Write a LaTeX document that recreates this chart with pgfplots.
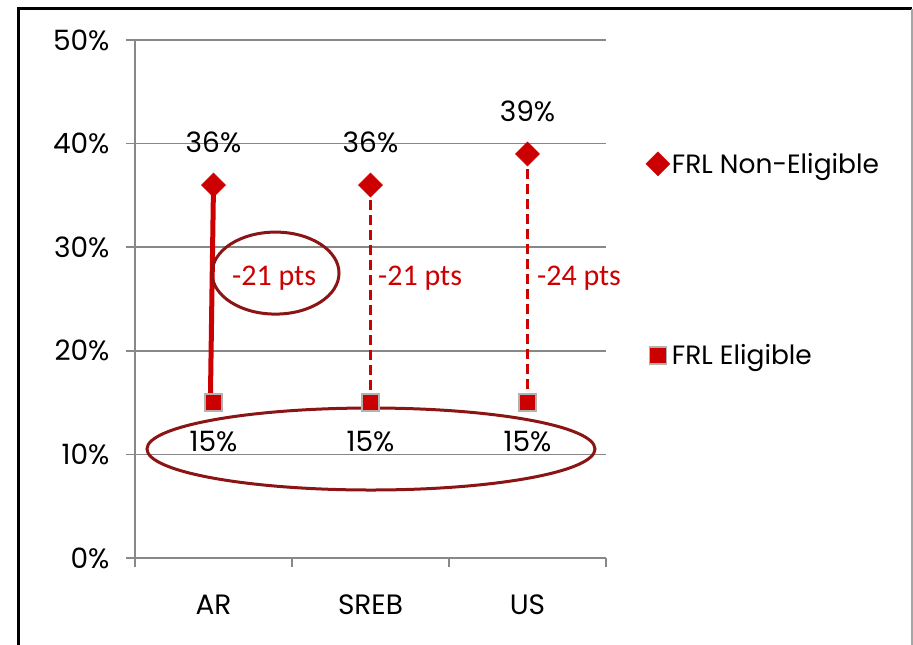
\documentclass[border=0pt]{standalone}
\usepackage{fontspec}
\setmainfont{Poppins}
\newfontfamily\lblfont{Carlito}
\usepackage{pgfplots}
\pgfplotsset{compat=1.18}
\definecolor{frlred}{HTML}{CC0000}
\definecolor{ringred}{HTML}{8B1414}
\definecolor{axgray}{HTML}{888888}

\begin{document}
\begin{tikzpicture}
% page frame (px -> pt, origin bottom left)
\path[use as bounding box] (0,0) rectangle (913pt,645pt);
\draw[line width=3pt,black] (18pt,-2pt) -- (18pt,636pt) -- (912pt,636pt);
\draw[line width=1.5pt,gray!70] (912pt,636pt) -- (912pt,-2pt);

\begin{axis}[
    at={(135pt,87pt)}, anchor=south west,
    scale only axis, width=471pt, height=518pt,
    xmin=0.5, xmax=3.5, ymin=0, ymax=50,
    xtick={0.5,1.5,2.5,3.5},
    x tick label as interval,
    xticklabels={AR,SREB,US,},
    ytick={0,10,...,50},
    yticklabel={\pgfmathprintnumber{\tick}\%},
    axis x line*=bottom, axis y line*=left,
    axis line style={axgray,line width=1.5pt},
    tick style={axgray,line width=1.5pt},
    tick align=outside, major tick length=9pt,
    ymajorgrids, grid style={axgray,line width=1.5pt},
    tick label style={font=\fontsize{28}{31}\selectfont, black},
    yticklabel style={xshift=-13pt},
    xticklabel style={yshift=-24pt},
    /pgf/number format/assume math mode=true,
    legend style={at={(1.078,0.79)}, anchor=north west, draw=none, fill=none,
        font=\fontsize{26.5}{29}\selectfont, row sep=166pt,
        /tikz/every even column/.append style={column sep=0pt}},
    legend cell align=left,
    clip=false,
]
% connecting lines
\addplot[frlred, line width=5pt, forget plot] coordinates {(1,36) (0.98,15)};
\addplot[frlred, line width=2.5pt, dash pattern=on 10pt off 5pt, forget plot] coordinates {(2,36) (2,15)};
\addplot[frlred, line width=2.5pt, dash pattern=on 10pt off 5pt, forget plot] coordinates {(3,39) (3,15)};

\addplot[only marks, mark=square*, mark size=8.5pt,
    mark options={rotate=45, fill=frlred, draw=frlred},
    nodes near coords={\pgfmathprintnumber{\pgfplotspointmeta}\%},
    every node near coord/.append style={font=\fontsize{28}{31}\selectfont, black, yshift=29pt}]
    coordinates {(1,36) (2,36) (3,39)};
\addlegendentry{FRL Non-Eligible}

\addplot[only marks, mark=square*, mark size=8.5pt,
    mark options={fill=frlred, draw=gray!60, line width=1.5pt},
    nodes near coords={\pgfmathprintnumber{\pgfplotspointmeta}\%},
    nodes near coords align=below,
    every node near coord/.append style={font=\fontsize{28}{31}\selectfont, black, yshift=-25pt}]
    coordinates {(1,15) (2,15) (3,15)};
\addlegendentry{FRL Eligible}

% difference labels
\node[anchor=west, inner sep=0pt, frlred, font=\lblfont\fontsize{30}{33}\selectfont] at (axis cs:1.118,27) {-21 pts};
\node[anchor=west, inner sep=0pt, frlred, font=\lblfont\fontsize{30}{33}\selectfont] at (axis cs:2.048,27) {-21 pts};
\node[anchor=west, inner sep=0pt, frlred, font=\lblfont\fontsize{30}{33}\selectfont] at (axis cs:3.06,27) {-24 pts};

% highlight rings
\draw[ringred, line width=3pt] (axis cs:1.395,27.5) ellipse [x radius=63.5pt, y radius=41pt];
\draw[ringred, line width=3pt] (axis cs:2.003,10.52) ellipse [x radius=224pt, y radius=41pt];
\end{axis}
\end{tikzpicture}
\end{document}
